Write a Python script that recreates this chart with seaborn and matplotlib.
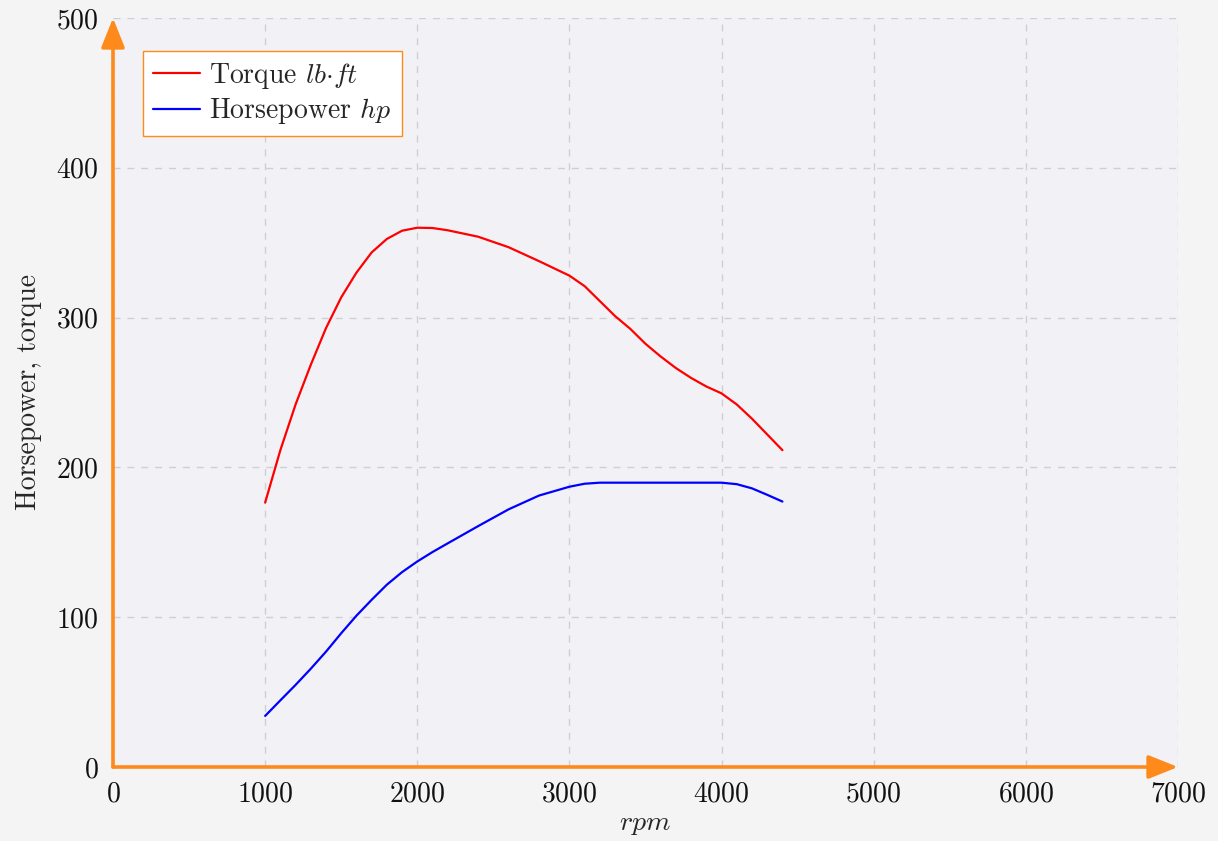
import numpy as np
import pandas as pd
import matplotlib
matplotlib.use("Agg")
import matplotlib.pyplot as plt
import seaborn as sns

# ---- data ----
rpm_torque = [1000, 1100, 1200, 1300, 1400, 1500, 1600, 1700, 1800, 1900, 2000,
              2100, 2200, 2400, 2600, 2800, 3000, 3100, 3200, 3300, 3400, 3500,
              3600, 3700, 3800, 3900, 4000, 4100, 4200, 4300, 4400]
torque = [176.5, 211.5, 242, 268.5, 293, 313.5, 330, 343.5, 352.5, 358, 360,
          359.8, 358.3, 354, 347, 337.7, 328, 321, 311, 301, 292.5, 282.5,
          274, 266.3, 259.7, 254, 249.4, 242, 232.5, 222, 211.5]

rpm_hp = [1000, 1100, 1200, 1300, 1400, 1500, 1600, 1700, 1800, 1900, 2000,
          2100, 2200, 2400, 2600, 2800, 3000, 3100, 3200, 3400, 3600, 3800,
          4000, 4100, 4200, 4300, 4400]
horsepower = [34.1, 44.5, 54.8, 65.6, 77, 89.3, 101, 111.6, 121.7, 130.1, 137.2,
              143.5, 149.3, 160.8, 172, 181.2, 187.1, 189.1, 189.8, 189.8, 189.8, 189.8,
              189.8, 188.8, 186, 181.7, 177.2]

series_labels = [r"Torque $lb{\cdot}ft$", r"Horsepower $hp$"]
x_ticks = [0, 1000, 2000, 3000, 4000, 5000, 6000, 7000]
y_ticks = [0, 100, 200, 300, 400, 500]

df = pd.concat([
    pd.DataFrame({"rpm": rpm_torque, "value": torque, "series": series_labels[0]}),
    pd.DataFrame({"rpm": rpm_hp, "value": horsepower, "series": series_labels[1]}),
])

# ---- style ----
sns.set_theme(style="white")
plt.rcParams["font.family"] = ["cmr10", "DejaVu Serif"]
plt.rcParams["mathtext.fontset"] = "cm"
plt.rcParams["axes.formatter.use_mathtext"] = True
plt.rcParams["axes.unicode_minus"] = False
plt.rcParams["lines.solid_joinstyle"] = "round"

orange = "#ff8a1c"
fs = 20

fig = plt.figure(figsize=(12.18, 8.41), dpi=100, facecolor="#f4f4f4")
ax = fig.add_axes([113/1218, 1-767/841, (1178-113)/1218, (767-18)/841])
ax.set_facecolor("#f2f2f6")

sns.lineplot(data=df, x="rpm", y="value", hue="series",
             palette={series_labels[0]: "#ff0000", series_labels[1]: "#0000ff"},
             linewidth=1.6, ax=ax, sort=True, estimator=None)

ax.set_xlim(0, 7000)
ax.set_ylim(0, 500)
ax.set_xticks(x_ticks)
ax.set_yticks(y_ticks)
ax.tick_params(axis="both", direction="inout", length=9, width=1.0,
               color="#555555", labelsize=fs, labelcolor="#111111")
ax.tick_params(axis="x", pad=6)
ax.tick_params(axis="y", pad=6)
for s in ax.spines.values():
    s.set_visible(False)

ax.grid(True, color="#cfcfd3", linestyle=(0, (5, 5)), linewidth=1.0)
ax.set_axisbelow(True)

ax.set_xlabel(r"$rpm$", fontsize=fs, labelpad=2)
ax.set_ylabel("Horsepower, torque", fontsize=fs, labelpad=10)

# axis arrows
arr = dict(arrowstyle="-|>,head_length=1.0,head_width=0.4", mutation_scale=18,
           color=orange, lw=2.6, shrinkA=0, shrinkB=0)
ax.annotate("", xy=(7000, 0), xytext=(0, 0), arrowprops=arr, annotation_clip=False)
ax.annotate("", xy=(0, 500), xytext=(0, 0), arrowprops=arr, annotation_clip=False)

leg = ax.legend(loc="upper left", bbox_to_anchor=(0.028, 0.956), borderaxespad=0,
                fontsize=fs, frameon=True, fancybox=False, framealpha=1.0,
                edgecolor=orange, facecolor="white", handlelength=1.7,
                handletextpad=0.35, labelspacing=0.2, borderpad=0.35, title=None)
leg.get_frame().set_linewidth(1.0)

fig.savefig("out.png", dpi=100, facecolor=fig.get_facecolor())
